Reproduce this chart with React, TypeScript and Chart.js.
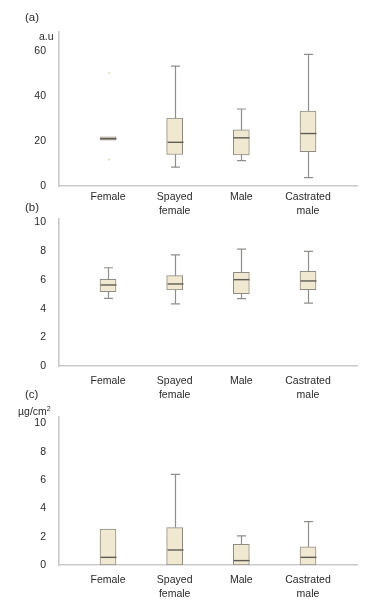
import React, { useEffect, useRef } from 'react';
import { Chart, registerables } from 'chart.js';

Chart.register(...registerables);

const FONT = '"Liberation Sans", Arial, Helvetica, sans-serif';

// Categories (x axis)
const categories: (string | string[])[] = ['Female', ['Spayed', 'female'], 'Male', ['Castrated', 'male']];

// Panel (a), a.u
const aMin = [null, 8.4, 11.3, 3.7];
const aQ1 = [20.4, 14.0, 13.8, 15.3];
const aMed = [21.0, 19.4, 21.4, 23.3];
const aQ3 = [21.8, 30.2, 24.9, 33.3];
const aMax = [null, 53.2, 34.2, 58.5];
const aFaintIdx = [0, 0];
const aFaintVal = [11.8, 50.2];
const aTicks = [0, 20, 40, 60];

// Panel (b)
const bMin = [4.72, 4.33, 4.7, 4.38];
const bQ1 = [5.19, 5.3, 5.05, 5.32];
const bMed = [5.65, 5.72, 6.02, 5.93];
const bQ3 = [6.04, 6.3, 6.53, 6.6];
const bMax = [6.85, 7.75, 8.15, 7.99];
const bTicks = [0, 2, 4, 6, 8, 10];

// Panel (c), µg/cm²
const cMin = [0, 0, 0, 0];
const cQ1 = [0, 0, 0, 0];
const cMed = [0.54, 1.06, 0.31, 0.54];
const cQ3 = [2.54, 2.64, 1.46, 1.29];
const cMax = [null, 6.4, 2.05, 3.06];
const cTicks = [0, 2, 4, 6, 8, 10];

type PanelData = {
  min: (number | null)[];
  q1: number[];
  med: number[];
  q3: number[];
  max: (number | null)[];
  faintIdx?: number[];
  faintVal?: number[];
  ticks: number[];
  yMax: number;
};

type PanelLayout = {
  top: number;
  height: number;
  areaTop: number;
  areaBottom: number;
  labelPad: number;
};

function BoxPanel({ data, layout }: { data: PanelData; layout: PanelLayout }) {
  const ref = useRef<HTMLCanvasElement | null>(null);
  useEffect(() => {
    if (!ref.current) return;
    const extras = {
      id: 'boxExtras',
      afterDatasetsDraw(chart: any) {
        const { ctx, scales } = chart;
        const x = scales.x;
        const y = scales.y;
        ctx.save();
        for (let i = 0; i < categories.length; i++) {
          const cx = Math.round(x.getPixelForValue(i)) + 0.5;
          ctx.strokeStyle = '#8e8e8a';
          ctx.lineWidth = 1.2;
          const mx = data.max[i];
          if (mx !== null && mx !== undefined && mx > data.q3[i]) {
            const yt = y.getPixelForValue(mx);
            ctx.beginPath();
            ctx.moveTo(cx, y.getPixelForValue(data.q3[i]));
            ctx.lineTo(cx, yt);
            ctx.moveTo(cx - 4.5, yt);
            ctx.lineTo(cx + 4.5, yt);
            ctx.stroke();
          }
          const mn = data.min[i];
          if (mn !== null && mn !== undefined && mn < data.q1[i]) {
            const yb = y.getPixelForValue(mn);
            ctx.beginPath();
            ctx.moveTo(cx, y.getPixelForValue(data.q1[i]));
            ctx.lineTo(cx, yb);
            ctx.moveTo(cx - 4.5, yb);
            ctx.lineTo(cx + 4.5, yb);
            ctx.stroke();
          }
          ctx.strokeStyle = '#5e5c55';
          ctx.lineWidth = 1.4;
          const ym = y.getPixelForValue(data.med[i]);
          ctx.beginPath();
          ctx.moveTo(cx - 8, ym);
          ctx.lineTo(cx + 8, ym);
          ctx.stroke();
        }
        if (data.faintIdx && data.faintVal) {
          ctx.fillStyle = '#ebe5c9';
          for (let k = 0; k < data.faintIdx.length; k++) {
            const px = x.getPixelForValue(data.faintIdx[k]);
            const py = y.getPixelForValue(data.faintVal[k]);
            ctx.beginPath();
            ctx.arc(px + 1, py, 1.2, 0, Math.PI * 2);
            ctx.fill();
          }
        }
        ctx.restore();
      },
    };

    const chart = new Chart(ref.current, {
      type: 'bar',
      data: {
        datasets: [
          {
            data: categories.map((_, i) => ({ x: i, y: [data.q1[i], data.q3[i]] })) as any,
            backgroundColor: '#f0e8d1',
            borderColor: '#8f8c84',
            borderWidth: 1,
            borderSkipped: false,
            barThickness: 16,
          },
        ],
      },
      options: {
        animation: false,
        responsive: false,
        maintainAspectRatio: false,
        layout: { padding: { top: layout.areaTop, left: 0, right: 10, bottom: 0 } },
        plugins: { legend: { display: false }, tooltip: { enabled: false } },
        scales: {
          x: {
            type: 'linear',
            offset: false,
            min: -0.735,
            max: 3.735,
            grid: { display: false, offset: false },
            border: { display: true, color: '#c9c9c9', width: 1.6 },
            afterBuildTicks: (s: any) => {
              s.ticks = categories.map((_, i) => ({ value: i }));
            },
            afterFit: (s: any) => {
              s.height = layout.height - layout.areaBottom;
            },
            ticks: {
              padding: layout.labelPad,
              maxRotation: 0,
              autoSkip: false,
              color: '#2a2a2a',
              font: { family: FONT, size: 10.5, lineHeight: 1.25 },
              callback: (v: any) => categories[Math.round(Number(v))] as any,
            },
          },
          y: {
            type: 'linear',
            min: 0,
            max: data.yMax,
            grid: { display: false },
            border: { display: true, color: '#c9c9c9', width: 1.6 },
            afterBuildTicks: (s: any) => {
              s.ticks = data.ticks.map((v) => ({ value: v }));
            },
            afterFit: (s: any) => {
              s.width = 59;
            },
            ticks: {
              padding: 5,
              color: '#2a2a2a',
              font: { family: FONT, size: 10.5 },
            },
          },
        },
      },
      plugins: [extras],
    });
    return () => chart.destroy();
  }, []);
  return (
    <canvas
      ref={ref}
      width={367}
      height={layout.height}
      style={{ position: 'absolute', left: 0, top: layout.top, width: 367, height: layout.height }}
    />
  );
}

const labelStyle = (left: number, top: number, size: number): React.CSSProperties => ({
  position: 'absolute',
  left,
  top,
  fontFamily: FONT,
  fontSize: size,
  lineHeight: '14px',
  color: '#2a2a2a',
  whiteSpace: 'nowrap',
});

export default function App() {
  useEffect(() => {
    document.body.style.margin = '0';
    document.body.style.background = '#ffffff';
  }, []);
  const panelA: PanelData = { min: aMin, q1: aQ1, med: aMed, q3: aQ3, max: aMax, faintIdx: aFaintIdx, faintVal: aFaintVal, ticks: aTicks, yMax: 68.4 };
  const panelB: PanelData = { min: bMin, q1: bQ1, med: bMed, q3: bQ3, max: bMax, ticks: bTicks, yMax: 10.25 };
  const panelC: PanelData = { min: cMin, q1: cQ1, med: cMed, q3: cQ3, max: cMax, ticks: cTicks, yMax: 10.45 };
  return (
    <div style={{ position: 'relative', width: 367, height: 608, background: '#fff', overflow: 'hidden' }}>
      <BoxPanel data={panelA} layout={{ top: 0, height: 222, areaTop: 32, areaBottom: 186, labelPad: -3 }} />
      <BoxPanel data={panelB} layout={{ top: 200, height: 215, areaTop: 19, areaBottom: 166, labelPad: 1 }} />
      <BoxPanel data={panelC} layout={{ top: 400, height: 208, areaTop: 17, areaBottom: 165, labelPad: 1 }} />
      <div style={labelStyle(25, 10, 11.5)}>(a)</div>
      <div style={labelStyle(39, 29, 10.5)}>a.u</div>
      <div style={labelStyle(25, 200, 11.5)}>(b)</div>
      <div style={labelStyle(25, 387, 11.5)}>(c)</div>
      <div style={labelStyle(18, 404, 10.5)}>
        µg/cm<sup style={{ fontSize: 7, verticalAlign: 'super', lineHeight: 0 }}>2</sup>
      </div>
    </div>
  );
}
